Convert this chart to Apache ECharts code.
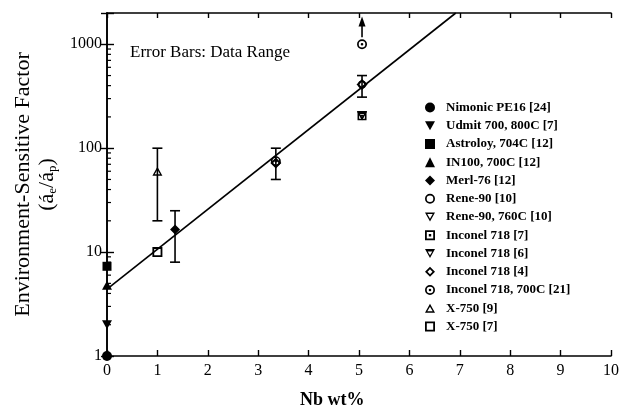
<!DOCTYPE html>
<html>
<head>
<meta charset="utf-8">
<script src="https://cdn.jsdelivr.net/npm/echarts@6/dist/echarts.min.js"></script>
<style>html,body{margin:0;padding:0;background:#fff;}#c{width:621px;height:414px;}</style>
</head>
<body>
<div id="c"></div>
<script>
// ---- data ----
var xTicks = [0,1,2,3,4,5,6,7,8,9,10];
var yTicks = [1,10,100,1000];
var yMinorTicks = [2,3,4,5,6,7,8,9,20,30,40,50,60,70,80,90,200,300,400,500,600,700,800,900];

var nimonic   = [[0, 1]];
var udmit     = [[0, 2]];
var astroloy  = [[0, 7.3]];
var in100     = [[0, 4.8]];
var merl76    = [[1.35, 16.5]];
var rene90    = [[5.06, 410]];
var rene90hot = [[5.06, 205]];
var inc718_7  = [[5.06, 205]];
var inc718_6  = [[5.06, 205]];
var inc718_4  = [[3.35, 72], [5.06, 410]];
var inc718_21 = [[3.35, 75], [5.06, 1000]];
var x750_9    = [[1, 60]];
var x750_7    = [[1, 10]];

var errX    = [1, 1.35, 3.35, 5.06];
var errLow  = [20, 8, 50, 310];
var errHigh = [100, 25, 100, 500];

var arrowX = [5.06], arrowFrom = [1170], arrowTo = [1850];

var fitX = [0, 6.92];
var fitY = [4.4, 2000];

// ---- symbols ----
var S = {
  downFill: 'path://M0,0H10L5,9Z',
  downOpen: 'path://M0,0H10L5,9Z M2.3,1.4L5,6.3L7.7,1.4Z',
  downThick: 'path://M0,0H10L5,9Z M2.7,2.6L5,6.3L7.3,2.6Z',
  triOpen: 'path://M5,0L10,9H0Z M5,3L2.3,7.6H7.7Z',
  sqOpen: 'path://M0,0H10V10H0Z M1.8,1.8V8.2H8.2V1.8Z',
  sqDot: 'path://M0,0H10V10H0Z M1.8,1.8V8.2H8.2V1.8Z M3.8,3.8H6.2V6.2H3.8Z',
  diaOpen: 'path://M5,0L10,5L5,10L0,5Z M5,2.5L2.5,5L5,7.5L7.5,5Z',
  cirOpen: 'path://M5,0A5,5 0 1,1 5,10A5,5 0 1,1 5,0Z M5,1.7A3.3,3.3 0 1,0 5,8.3A3.3,3.3 0 1,0 5,1.7Z',
  cirDot: 'path://M5,0A5,5 0 1,1 5,10A5,5 0 1,1 5,0Z M5,1.7A3.3,3.3 0 1,0 5,8.3A3.3,3.3 0 1,0 5,1.7Z M5,3.7A1.3,1.3 0 1,1 5,6.3A1.3,1.3 0 1,1 5,3.7Z'
};

var FONT = '"Liberation Serif", "DejaVu Serif", serif';

function sc(name, data, symbol, size) {
  return {
    name: name, type: 'scatter', data: data, symbol: symbol,
    symbolSize: size || 10, z: 5,
    itemStyle: { color: '#000', opacity: 1 }
  };
}

var series = [
  sc('Nimonic PE16 [24]', nimonic, 'circle', 10),
  sc('Udmit 700, 800C [7]', udmit, S.downFill, [10, 9]),
  sc('Astroloy, 704C [12]', astroloy, 'rect', 9),
  sc('IN100, 700C [12]', in100, 'triangle', [10, 9]),
  sc('Merl-76 [12]', merl76, 'diamond', 10),
  sc('Rene-90 [10]', rene90, S.cirOpen, 8),
  sc('Rene-90, 760C [10]', rene90hot, S.downOpen, [10, 9]),
  sc('Inconel 718 [7]', inc718_7, S.sqDot, 9),
  sc('Inconel 718 [6]', inc718_6, S.downThick, [10, 9]),
  sc('Inconel 718 [4]', inc718_4, S.diaOpen, 11),
  sc('Inconel 718, 700C [21]', inc718_21, S.cirDot, 10),
  sc('X-750 [9]', x750_9, S.triOpen, [10, 9]),
  sc('X-750 [7]', x750_7, S.sqOpen, 10)
];

series.push({
  type: 'line', data: fitX.map(function (x, i) { return [x, fitY[i]]; }),
  showSymbol: false, clip: true, z: 3, silent: true,
  lineStyle: { color: '#000', width: 1.6 }
});

series.push({
  type: 'custom', z: 4, silent: true,
  data: errX.map(function (x, i) { return [x, errLow[i], errHigh[i]]; }),
  renderItem: function (params, api) {
    var lo = api.coord([api.value(0), api.value(1)]);
    var hi = api.coord([api.value(0), api.value(2)]);
    var w = 5;
    var st = { stroke: '#000', lineWidth: 1.6 };
    return { type: 'group', children: [
      { type: 'line', shape: { x1: lo[0], y1: lo[1], x2: hi[0], y2: hi[1] }, style: st },
      { type: 'line', shape: { x1: lo[0] - w, y1: lo[1], x2: lo[0] + w, y2: lo[1] }, style: st },
      { type: 'line', shape: { x1: hi[0] - w, y1: hi[1], x2: hi[0] + w, y2: hi[1] }, style: st }
    ]};
  }
});

series.push({
  type: 'custom', z: 4, silent: true,
  data: arrowX.map(function (x, i) { return [x, arrowFrom[i], arrowTo[i]]; }),
  renderItem: function (params, api) {
    var a = api.coord([api.value(0), api.value(1)]);
    var b = api.coord([api.value(0), api.value(2)]);
    return { type: 'group', children: [
      { type: 'line', shape: { x1: a[0], y1: a[1], x2: b[0], y2: b[1] + 6 }, style: { stroke: '#000', lineWidth: 1.6 } },
      { type: 'polygon', shape: { points: [[b[0], b[1]], [b[0] - 3.5, b[1] + 10], [b[0] + 3.5, b[1] + 10]] }, style: { fill: '#000' } }
    ]};
  }
});

series.push({
  type: 'custom', z: 4, silent: true,
  data: yMinorTicks.map(function (v) { return [0, v]; }),
  renderItem: function (params, api) {
    var p = api.coord([api.value(0), api.value(1)]);
    return { type: 'line', shape: { x1: p[0], y1: p[1], x2: p[0] + 4, y2: p[1] }, style: { stroke: '#000', lineWidth: 1.2 } };
  }
});

var chart = echarts.init(document.getElementById('c'), null, { renderer: 'canvas' });
chart.setOption({
  backgroundColor: '#fff',
  animation: false,
  textStyle: { fontFamily: FONT },
  grid: { left: 107, right: 10, top: 13, bottom: 58, containLabel: false, outerBoundsMode: 'none' },
  legend: {
    orient: 'vertical', left: 425, top: 101, padding: 0,
    itemWidth: 10, itemHeight: 10, itemGap: 5.25,
    data: series.slice(0, 13).map(function (s) { return s.name; }),
    textStyle: { fontFamily: FONT, fontSize: 13, fontWeight: 'bold', color: '#000', padding: [0, 0, 0, 6] }
  },
  xAxis: [{
    type: 'value', min: 0, max: 10, interval: 1, position: 'bottom',
    axisLine: { show: true, lineStyle: { color: '#000', width: 1.6 } },
    axisTick: { show: true, inside: true, length: 6, lineStyle: { color: '#000', width: 1.4 } },
    axisLabel: { fontFamily: FONT, fontSize: 16, color: '#000', margin: 7 },
    splitLine: { show: false }
  }, {
    type: 'value', min: 0, max: 10, interval: 1, position: 'top',
    axisLine: { show: true, lineStyle: { color: '#000', width: 1.6 } },
    axisTick: { show: true, inside: true, length: 5, lineStyle: { color: '#000', width: 1.4 } },
    axisLabel: { show: false }, splitLine: { show: false }
  }],
  yAxis: [{
    type: 'log', logBase: 10, min: 1, max: 2000, position: 'left',
    name: 'Environment-Sensitive Factor\n(á{s|e}/á{s|p})',
    nameLocation: 'middle', nameGap: 45, nameRotate: 90,
    nameTextStyle: { fontFamily: FONT, fontSize: 22, color: '#000', lineHeight: 24,
      rich: { s: { fontFamily: FONT, fontSize: 13, color: '#000', verticalAlign: 'bottom', padding: [10, 0, 0, 0] } } },
    axisLine: { show: true, lineStyle: { color: '#000', width: 1.6 } },
    axisTick: { show: true, inside: true, length: 7, lineStyle: { color: '#000', width: 1.4 } },
    axisLabel: { fontFamily: FONT, fontSize: 16, color: '#000', margin: 5,
      formatter: function (v) { return yTicks.indexOf(Math.round(v)) >= 0 ? String(Math.round(v)) : ''; } },
    splitLine: { show: false }
  }, {
    type: 'log', logBase: 10, min: 1, max: 2000, position: 'right',
    axisLine: { show: true, lineStyle: { color: '#000', width: 1.6 } },
    axisTick: { show: true, inside: true, length: 6, lineStyle: { color: '#000', width: 1.4 } },
    axisLabel: { show: false }, splitLine: { show: false }
  }],
  graphic: [
    { type: 'text', left: 130, top: 44, style: { text: 'Error Bars: Data Range', font: '17px ' + FONT, fill: '#000' } },
    { type: 'text', left: 300, top: 391, style: { text: 'Nb wt%', font: 'bold 18px ' + FONT, fill: '#000' } }
  ],
  series: series
});
</script>
</body>
</html>
